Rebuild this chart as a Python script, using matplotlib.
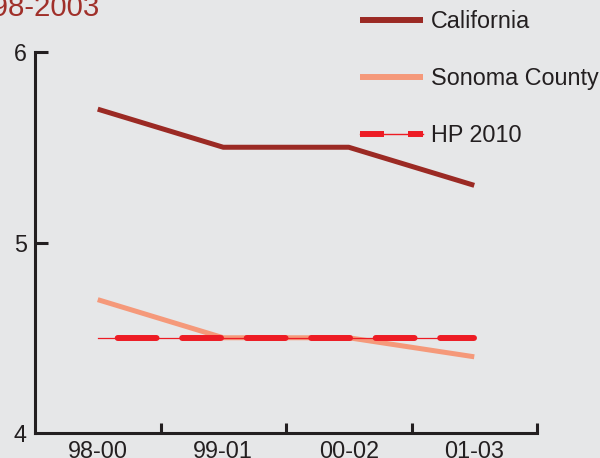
import matplotlib
matplotlib.use("Agg")
import matplotlib.pyplot as plt
from matplotlib.lines import Line2D

plt.rcParams['font.family'] = ['Liberation Sans', 'DejaVu Sans']

periods = ['98-00', '99-01', '00-02', '01-03']
california = [5.7, 5.5, 5.5, 5.3]
sonoma = [4.7, 4.5, 4.5, 4.4]
hp2010 = [4.5, 4.5, 4.5, 4.5]
series_names = ['California', 'Sonoma County', 'HP 2010']

bg = '#e6e7e8'
c_ca = '#9b2a24'
c_so = '#f5997a'
c_hp = '#ed1c24'
axis_col = '#231f20'

W, H = 600, 458
fig = plt.figure(figsize=(W / 100, H / 100), dpi=100, facecolor=bg)
ax = fig.add_axes([35 / W, 25 / H, 502 / W, 381 / H], facecolor=bg)

x = list(range(len(periods)))
ax.plot(x, california, color=c_ca, lw=3.6, solid_capstyle='butt')
ax.plot(x, sonoma, color=c_so, lw=3.6, solid_capstyle='butt')
# target line: thin line with thick dashes on top
ax.plot(x, hp2010, color=c_hp, lw=0.9)
ax.plot(x, hp2010, color=c_hp, lw=4.3, dash_capstyle='round',
        linestyle=(7.5, (6.5, 4.3)))

ax.set_xlim(-0.5, 3.5)
ax.set_ylim(4, 6)

for side in ['top', 'right']:
    ax.spines[side].set_visible(False)
for side in ['left', 'bottom']:
    ax.spines[side].set_linewidth(2.2)
    ax.spines[side].set_color(axis_col)
    ax.spines[side].set_capstyle('projecting')

ax.set_yticks([4, 5, 6])
ax.set_yticklabels(['4', '5', '6'])
ax.tick_params(axis='y', direction='in', length=9, width=2.2, color=axis_col,
               labelsize=16.8, labelcolor=axis_col, pad=6)
ax.yaxis.get_major_ticks()[0].tick1line.set_visible(False)

ax.set_xticks([0.5, 1.5, 2.5, 3.5])
ax.set_xticklabels([])
ax.set_xticks(x, minor=True)
ax.set_xticklabels(periods, minor=True)
ax.tick_params(axis='x', which='major', direction='in', length=7, width=2.2, color=axis_col)
ax.tick_params(axis='x', which='minor', length=0, labelsize=16.8,
               labelcolor=axis_col, pad=5)

fig.text(100 / W, 1 - 16 / H, '1998-2003', color='#a0302a', fontsize=21.2,
         ha='right', va='baseline')

# legend drawn by hand in figure pixels
def fpx(px, py):
    return px / W, 1 - py / H

rows = [20, 77, 134]
for name, color, ry in zip(series_names[:2], [c_ca, c_so], rows[:2]):
    (x0, y0), (x1, _) = fpx(360, ry), fpx(423, ry)
    fig.add_artist(Line2D([x0, x1], [y0, y0], color=color, lw=4.3,
                          solid_capstyle='butt', transform=fig.transFigure))
ry = rows[2]
(x0, y0), (x1, _) = fpx(360, ry), fpx(423, ry)
fig.add_artist(Line2D([x0, x1], [y0, y0], color=c_hp, lw=1.0,
                      transform=fig.transFigure))
for a, b in [(360, 384), (408, 423)]:
    fig.add_artist(Line2D([a / W, b / W], [y0, y0], color=c_hp, lw=4.3,
                          solid_capstyle='butt', transform=fig.transFigure))

for name, ry in zip(series_names, rows):
    tx, ty = fpx(431, ry + 8)
    fig.text(tx, ty, name, fontsize=16.8, color=axis_col, ha='left', va='baseline')

fig.savefig('out.png', dpi=100, facecolor=bg)
